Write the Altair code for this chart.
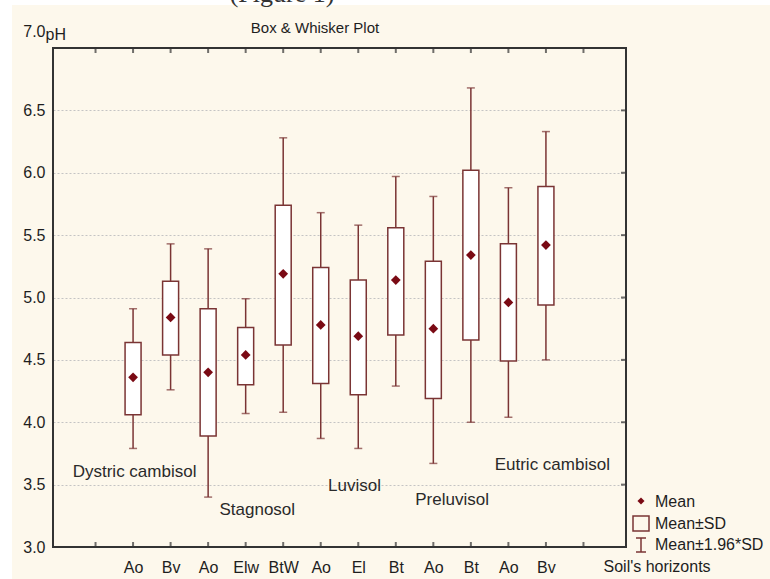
import altair as alt
import pandas as pd

# ---- data ----
slots = [2, 3, 4, 5, 6, 7, 8, 9, 10, 11, 12, 13]
horizons = ["Ao", "Bv", "Ao", "Elw", "BtW", "Ao", "El", "Bt", "Ao", "Bt", "Ao", "Bv"]
means = [4.36, 4.84, 4.40, 4.54, 5.19, 4.78, 4.69, 5.14, 4.75, 5.34, 4.96, 5.42]
sd_lo = [4.06, 4.54, 3.89, 4.30, 4.62, 4.31, 4.22, 4.70, 4.19, 4.66, 4.49, 4.94]
sd_hi = [4.64, 5.13, 4.91, 4.76, 5.74, 5.24, 5.14, 5.56, 5.29, 6.02, 5.43, 5.89]
ci_lo = [3.79, 4.26, 3.40, 4.07, 4.08, 3.87, 3.79, 4.29, 3.67, 4.00, 4.04, 4.50]
ci_hi = [4.91, 5.43, 5.39, 4.99, 6.28, 5.68, 5.58, 5.97, 5.81, 6.68, 5.88, 6.33]

tick_pos = list(range(1, 15))
tick_labels = ["", ""] + horizons + [""]  # index 0..14
y_ticks = [3.0, 3.5, 4.0, 4.5, 5.0, 5.5, 6.0, 6.5, 7.0]

soil_names = ["Dystric cambisol", "Stagnosol", "Luvisol", "Preluvisol", "Eutric cambisol"]
soil_x = [2.04, 5.31, 7.90, 10.50, 13.17]
soil_y = [3.60, 3.30, 3.49, 3.38, 3.66]

legend_labels = ["Mean", "Mean\u00b1SD", "Mean\u00b11.96*SD"]

# ---- styles ----
W, H = 573, 499
BR = "#7a3434"
DOT = "#7a0a14"
TXT = "#1e1e1e"
FONT = "Liberation Sans"

df = pd.DataFrame({"slot": slots, "hz": horizons, "mean": means,
                   "sd_lo": sd_lo, "sd_hi": sd_hi, "ci_lo": ci_lo, "ci_hi": ci_hi})
soil_df = pd.DataFrame({"name": soil_names, "x": soil_x, "y": soil_y})
one = pd.DataFrame({"a": [0]})

x_scale = alt.Scale(domain=[0, 15], nice=False, zero=False)
y_scale = alt.Scale(domain=[3, 7], nice=False, zero=False)

label_expr = "[" + ",".join("'%s'" % l for l in tick_labels) + "][datum.value]"

x_axis = alt.Axis(values=tick_pos, labelExpr=label_expr, ticks=False, tickSize=0,
                  domain=False, grid=False, labelPadding=20, labelBaseline="middle",
                  labelFontSize=16, labelColor=TXT, labelFont=FONT, labelOverlap=False,
                  labelFlush=False,
                  title="Soil's horizonts", titleX=550, titleY=24, titleAlign="left",
                  titleBaseline="alphabetic", titleFontWeight="normal", titleFontSize=16,
                  titleColor=TXT, titleFont=FONT)
y_axis = alt.Axis(values=y_ticks, format=".1f", grid=True, gridColor="#c4c4c4",
                  gridDash=[2, 2], gridWidth=1, ticks=False, tickSize=0, domain=False,
                  labelPadding=8, labelFontSize=16, labelColor=TXT, labelFont=FONT,
                  labelOverlap=False, labelFlush=False,
                  labelOffset={"condition": {"test": "datum.value >= 7", "value": -17}, "value": 0},
                  title="pH", titleAngle=0, titleX=-8, titleY=-9, titleAlign="left",
                  titleBaseline="alphabetic", titleFontWeight="normal", titleFontSize=16,
                  titleColor=TXT, titleFont=FONT)

X = alt.X("slot:Q", scale=x_scale, axis=x_axis)

base = alt.Chart(df)

whiskers = base.mark_rule(color=BR, strokeWidth=1.5).encode(
    x=X, y=alt.Y("ci_lo:Q", scale=y_scale, axis=y_axis), y2="ci_hi:Q")
cap_hi = base.mark_tick(orient="horizontal", size=8, thickness=1.5, color=BR).encode(
    x=X, y=alt.Y("ci_hi:Q", scale=y_scale, axis=y_axis))
cap_lo = base.mark_tick(orient="horizontal", size=8, thickness=1.5, color=BR).encode(
    x=X, y=alt.Y("ci_lo:Q", scale=y_scale, axis=y_axis))
boxes = base.mark_bar(size=16, fill="white", stroke=BR, strokeWidth=1.5).encode(
    x=X, y=alt.Y("sd_lo:Q", scale=y_scale, axis=y_axis), y2="sd_hi:Q")
mean_pts = base.mark_point(shape="diamond", filled=True, size=95, color=DOT, opacity=1).encode(
    x=X, y=alt.Y("mean:Q", scale=y_scale, axis=y_axis))

soil_text = alt.Chart(soil_df).mark_text(fontSize=17, font=FONT, color="#2a2a2a",
                                         align="center", baseline="middle").encode(
    x=alt.X("x:Q", scale=x_scale, axis=x_axis),
    y=alt.Y("y:Q", scale=y_scale, axis=y_axis), text="name:N")

# inward frame ticks
tick_df = pd.DataFrame({"pos": tick_pos})
ytick_df = pd.DataFrame({"v": y_ticks[1:-1]})
bottom_ticks = alt.Chart(tick_df).mark_tick(orient="vertical", size=5, thickness=2,
                                            color="#333333", yOffset=-2.5).encode(
    x=alt.X("pos:Q", scale=x_scale, axis=x_axis), y=alt.value(H))
top_ticks = alt.Chart(tick_df).mark_tick(orient="vertical", size=5, thickness=2,
                                         color="#333333", yOffset=2.5).encode(
    x=alt.X("pos:Q", scale=x_scale, axis=x_axis), y=alt.value(0))
right_ticks = alt.Chart(ytick_df).mark_tick(orient="horizontal", size=5, thickness=2,
                                            color="#333333", xOffset=-2.5).encode(
    y=alt.Y("v:Q", scale=y_scale, axis=y_axis), x=alt.value(W))

ann = alt.Chart(one)
frame = ann.mark_rect(fillOpacity=0, stroke="#333333", strokeWidth=2).encode(
    x=alt.value(0), x2=alt.value(W), y=alt.value(0), y2=alt.value(H))
strip_top = ann.mark_rect(color="white").encode(
    x=alt.value(-53), x2=alt.value(W + 144), y=alt.value(-48), y2=alt.value(-43))
strip_left = ann.mark_rect(color="white").encode(
    x=alt.value(-53), x2=alt.value(-41), y=alt.value(-48), y2=alt.value(H + 32))
fig_text = ann.mark_text(text="(Figure 1)", font="Liberation Serif", fontSize=26,
                         color="#333333", align="center", baseline="alphabetic").encode(
    x=alt.value(229), y=alt.value(-46))
title_text = ann.mark_text(text="Box & Whisker Plot", font=FONT, fontSize=15, color=TXT,
                           align="center", baseline="alphabetic").encode(
    x=alt.value(262), y=alt.value(-15))

# legend
leg_diamond = ann.mark_point(shape="diamond", filled=True, size=50, color=DOT, opacity=1).encode(
    x=alt.value(588), y=alt.value(453))
leg_box = ann.mark_rect(fill="white", fillOpacity=0, stroke=BR, strokeWidth=1.5).encode(
    x=alt.value(580), x2=alt.value(596), y=alt.value(468), y2=alt.value(483))
leg_ibeam = ann.mark_rule(color=BR, strokeWidth=1.5).encode(
    x=alt.value(588), y=alt.value(490), y2=alt.value(504))
leg_cap1 = ann.mark_rule(color=BR, strokeWidth=1.5).encode(
    x=alt.value(583), x2=alt.value(593), y=alt.value(490))
leg_cap2 = ann.mark_rule(color=BR, strokeWidth=1.5).encode(
    x=alt.value(583), x2=alt.value(593), y=alt.value(504))
leg_texts = [
    ann.mark_text(text=t, font=FONT, fontSize=16, color=TXT, align="left",
                  baseline="middle").encode(x=alt.value(602), y=alt.value(yy))
    for t, yy in zip(legend_labels, [454, 476, 497])
]

chart = alt.layer(
    strip_top, strip_left, fig_text, title_text,
    whiskers, cap_hi, cap_lo, boxes, mean_pts, soil_text,
    frame, bottom_ticks, top_ticks, right_ticks,
    leg_diamond, leg_box, leg_ibeam, leg_cap1, leg_cap2, *leg_texts
).properties(
    width=W, height=H,
    autosize=alt.AutoSizeParams(type="none"),
    padding={"left": 53, "top": 48, "right": 144, "bottom": 32},
    background="#fdf8ec",
).configure_view(
    stroke=None, fill="white"
).configure(font=FONT)

chart.save("out.html", embed_options={"renderer": "svg", "actions": False})
